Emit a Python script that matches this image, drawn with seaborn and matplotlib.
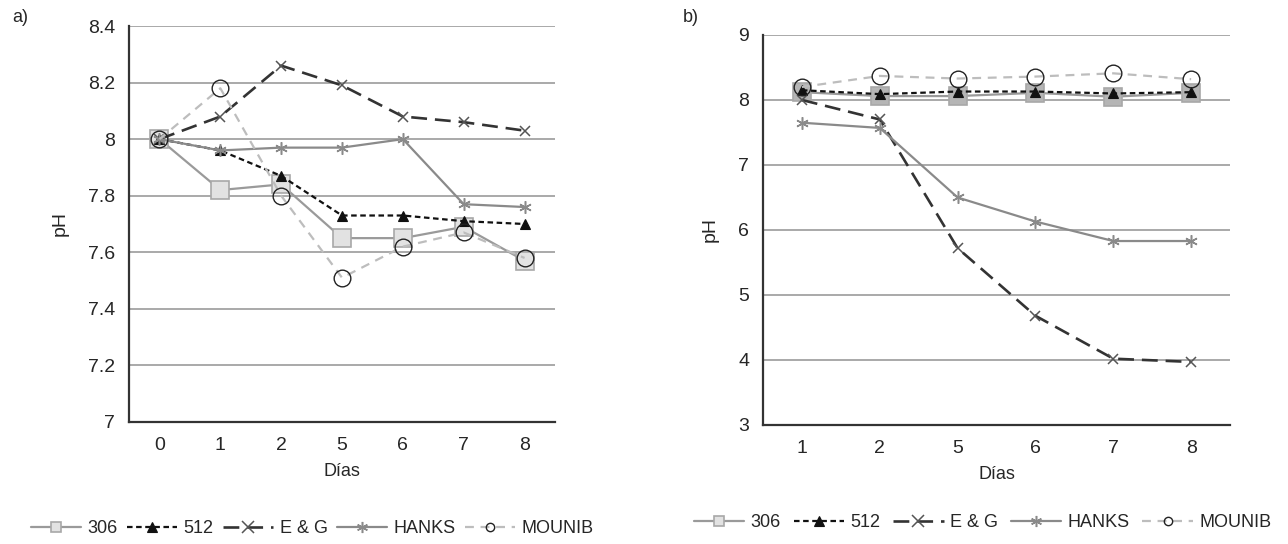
import numpy as np
import matplotlib
matplotlib.use("Agg")
import matplotlib.pyplot as plt
from matplotlib import font_manager
from matplotlib.lines import Line2D
import seaborn as sns

# data
days_a = ["0", "1", "2", "5", "6", "7", "8"]
days_b = ["1", "2", "5", "6", "7", "8"]
series = ["306", "512", "E & G", "HANKS", "MOUNIB"]

ph_a = {
    "306":    [8.00, 7.82, 7.84, 7.65, 7.65, 7.69, 7.57],
    "512":    [8.00, 7.96, 7.87, 7.73, 7.73, 7.71, 7.70],
    "E & G":  [8.00, 8.08, 8.26, 8.19, 8.08, 8.06, 8.03],
    "HANKS":  [8.00, 7.96, 7.97, 7.97, 8.00, 7.77, 7.76],
    "MOUNIB": [8.00, 8.18, 7.80, 7.51, 7.62, 7.67, 7.58],
}
ph_b = {
    "306":    [8.12, 8.06, 8.06, 8.11, 8.05, 8.11],
    "512":    [8.15, 8.09, 8.13, 8.13, 8.10, 8.12],
    "E & G":  [8.00, 7.70, 5.72, 4.68, 4.02, 3.97],
    "HANKS":  [7.65, 7.57, 6.50, 6.13, 5.83, 5.83],
    "MOUNIB": [8.20, 8.37, 8.33, 8.36, 8.41, 8.32],
}

sns.set_style("white")
names = {f.name for f in font_manager.fontManager.ttflist}
fam = "Liberation Sans Narrow" if "Liberation Sans Narrow" in names else "Liberation Sans"
plt.rcParams["font.family"] = [fam, "DejaVu Sans"]

styles = {
    "306":    dict(color="#9a9a9a", linestyle="-", linewidth=1.6, marker="s", markersize=13,
                   markerfacecolor="#e2e2e2", markeredgecolor="#a8a8a8", markeredgewidth=1.2),
    "512":    dict(color="#111111", linestyle=(0, (2.5, 1.6)), linewidth=1.6, marker="^", markersize=7,
                   markerfacecolor="#111111", markeredgecolor="#111111", markeredgewidth=0.8),
    "E & G":  dict(color="#333333", linestyle=(0, (6, 3)), linewidth=1.9, marker="x", markersize=7,
                   markerfacecolor="none", markeredgecolor="#555555", markeredgewidth=1.1),
    "HANKS":  dict(color="#8a8a8a", linestyle="-", linewidth=1.6, marker=(6, 2, 0), markersize=9,
                   markerfacecolor="none", markeredgecolor="#8a8a8a", markeredgewidth=1.1),
    "MOUNIB": dict(color="#bdbdbd", linestyle=(0, (4, 3)), linewidth=1.6, marker="o", markersize=12,
                   markerfacecolor="none", markeredgecolor="#222222", markeredgewidth=1.0),
}

fig = plt.figure(figsize=(12.88, 5.44), dpi=100)
ax_a = fig.add_axes([0.1002, 0.2243, 0.3307, 0.7279])
ax_b = fig.add_axes([0.5924, 0.2188, 0.3626, 0.7169])


def draw(ax, days, data, ylim, yticks, square_fill):
    for s in series:
        kw = dict(styles[s])
        if s == "306":
            kw["markerfacecolor"] = square_fill
        sns.lineplot(x=days, y=data[s], ax=ax, sort=False, **kw)
    n = len(days)
    ax.set_xlim(-0.5, n - 0.5)
    ax.set_ylim(*ylim)
    ax.set_yticks(yticks)
    ax.set_yticklabels([f"{v:g}" for v in yticks])
    ax.set_xticks(range(n))
    ax.set_xticklabels(days)
    ax.set_xticks(np.arange(-0.5, n, 1), minor=True)
    ax.tick_params(axis="x", which="major", length=0, pad=11, labelsize=14)
    ax.tick_params(axis="x", which="minor", length=6, width=1, color="#777777", direction="out")
    ax.tick_params(axis="y", length=5, width=1, color="#777777", labelsize=14, pad=5)
    ax.yaxis.grid(True, color="#a3a3a3", linewidth=1.3)
    ax.set_axisbelow(True)
    for sp in ["top", "right"]:
        ax.spines[sp].set_visible(False)
    for sp in ["left", "bottom"]:
        ax.spines[sp].set_color("#333333")
        ax.spines[sp].set_linewidth(1.6)
    ax.set_xlabel("Días", fontsize=13, labelpad=6)
    ax.set_ylabel("pH", fontsize=14, labelpad=14)


draw(ax_a, days_a, ph_a, (7, 8.4), np.round(np.arange(7, 8.41, 0.2), 1), "#e2e2e2")
draw(ax_b, days_b, ph_b, (3, 9), np.arange(3, 10, 1), "#b5b5b5")

# legend handles with smaller markers, as in the original
handles = []
for s in series:
    kw = dict(styles[s])
    kw["markersize"] = {"306": 7, "512": 7, "E & G": 8, "HANKS": 8, "MOUNIB": 6}[s]
    handles.append(Line2D([], [], **kw))

ax_a.legend(handles, series, loc="center", bbox_to_anchor=(0.43, -0.27), ncol=5,
            frameon=False, fontsize=13, handlelength=2.8, columnspacing=0.5, handletextpad=0.35)
ax_b.legend(handles, series, loc="center", bbox_to_anchor=(0.47, -0.25), ncol=5,
            frameon=False, fontsize=13, handlelength=2.8, columnspacing=0.7, handletextpad=0.35)

fig.text(0.0093, 0.967, "a)", fontsize=13, va="center", ha="left")
fig.text(0.530, 0.967, "b)", fontsize=13, va="center", ha="left")

fig.savefig("out.png", dpi=100)
